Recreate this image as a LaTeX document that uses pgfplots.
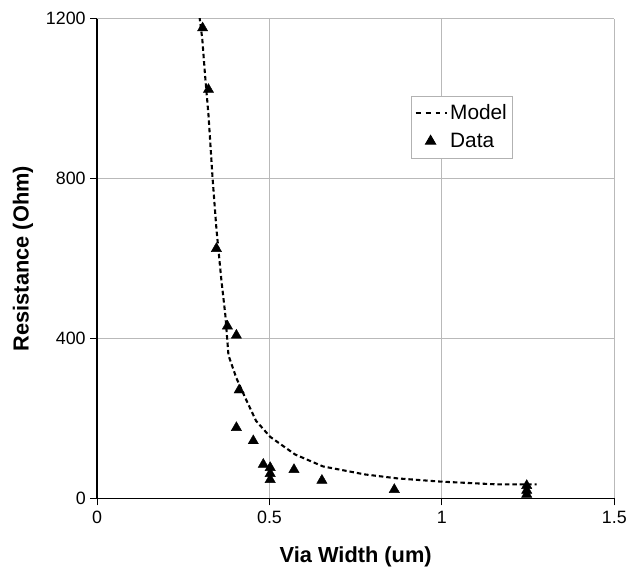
\documentclass[border=0pt]{standalone}
\usepackage{pgfplots}
\pgfplotsset{compat=1.18}
\usepackage{fontspec}
\setmainfont{Liberation Sans}
\pgfplotsset{
  modelleg/.style={legend image code/.code={\draw[##1, line width=1.6pt, dash pattern=on 5pt off 5pt] (2pt,0pt) -- (34pt,0pt);}},
  dataleg/.style={legend image code/.code={\draw[mark repeat=2,mark phase=2,##1] plot coordinates {(0pt,0pt) (17pt,0pt) (34pt,0pt)};}},
}
\begin{document}
\begin{tikzpicture}
\begin{axis}[
  scale only axis,
  width=522pt, height=484pt,
  xmin=0, xmax=1.5, ymin=0, ymax=1200,
  xtick={0,0.5,1,1.5}, ytick={0,400,800,1200},
  axis lines=left,
  axis line style={black, line width=1.3pt, -},
  grid=major,
  grid style={gray!55, line width=0.9pt},
  tick style={black, line width=1.1pt},
  tick align=outside,
  major tick length=7pt,
  /pgf/number format/assume math mode=true,
  /pgf/number format/1000 sep={},
  ticklabel style={font=\fontsize{18}{21}\selectfont},
  xticklabel style={yshift=-2pt},
  yticklabel style={xshift=-1pt},
  xlabel={\textbf{Via Width (um)}},
  ylabel={\textbf{Resistance (Ohm)}},
  label style={font=\fontsize{22}{26}\selectfont},
  xlabel style={yshift=-17pt},
  ylabel style={yshift=6pt},
  legend style={at={(0.606,0.84)}, anchor=north west, draw=gray!60, line width=0.9pt,
    font=\fontsize{21}{24}\selectfont, inner xsep=4pt, inner ysep=7pt, row sep=8pt},
  legend cell align=left,
  clip=true,
]
\addplot[black, line width=2.1pt, dash pattern=on 4.5pt off 3pt, mark=none, modelleg]
coordinates {
(0.297,1205) (0.305,1150) (0.313,1060) (0.323,960) (0.335,800) (0.346,675) (0.360,550) (0.372,458)
(0.381,358) (0.404,301) (0.430,251) (0.461,194) (0.502,154) (0.574,110)
(0.655,80) (0.776,60) (0.871,50) (0.995,42) (1.16,35) (1.275,35)
};
\addlegendentry{Model}
\addplot[only marks, mark=triangle*, mark size=6pt, black, dataleg]
coordinates {
(0.306,1177) (0.323,1023) (0.346,625) (0.378,431) (0.404,408) (0.412,271)
(0.404,177) (0.453,144) (0.482,85) (0.502,77) (0.502,62) (0.502,47)
(0.571,72) (0.652,45) (0.862,22) (1.246,32) (1.246,20) (1.246,10)
};
\addlegendentry{Data}
\end{axis}
\path (current axis.south west) ++(-98pt,-71pt);
\path (current axis.north east) ++(13pt,19pt);
\end{tikzpicture}
\end{document}
